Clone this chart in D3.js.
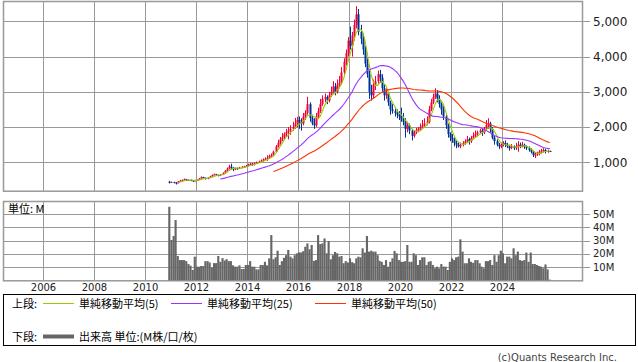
<!DOCTYPE html>
<html>
<head>
<meta charset="utf-8">
<script src="https://cdn.jsdelivr.net/npm/d3@7"></script>
<style>
body { margin: 0; background: #fff; }
text { font-family: "DejaVu Sans", sans-serif; }
.jp { font-family: "Noto Sans CJK JP", sans-serif; }
</style>
</head>
<body>
<div id="chart"></div>
<script>
// monthly candles, Dec 2010 .. Nov 2025
const firstMonth = new Date(2010, 11, 15);

const opens = [450,
	430,440,420,410,460,480,500,520,490,500,480,470,
	490,500,540,580,560,530,560,600,640,660,640,620,
	650,700,760,820,880,850,800,830,820,850,870,880,
	900,940,960,930,970,1000,1020,1050,1080,1100,1120,1180,
	1200,1300,1450,1550,1650,1700,1800,1850,1900,1950,2000,2100,
	2200,2150,2100,2300,2400,2650,2250,2100,2050,2300,2450,2650,
	2800,2850,2750,2900,3000,3150,3000,3200,3250,3550,3850,4100,
	4450,4300,4600,4900,5200,4700,4500,4200,3800,3500,3000,2900,
	3200,3300,3500,3400,3100,2900,2950,2700,2500,2450,2400,2350,
	2300,2250,2150,1950,2050,1900,1750,1850,1900,1950,2000,2050,
	2100,2150,2500,2700,2850,2950,2800,2650,2500,2300,2050,1800,
	1700,1650,1550,1500,1450,1500,1550,1600,1650,1600,1700,1750,
	1800,1850,1900,1850,1950,2050,2100,1950,1700,1600,1500,1450,
	1500,1550,1500,1450,1400,1450,1400,1450,1500,1450,1500,1450,
	1400,1350,1300,1200,1220,1250,1300,1330,1350,1300,1320];

const highs = [470,
	455,450,440,470,500,510,540,530,515,510,490,500,
	515,555,600,590,565,570,615,655,680,670,650,665,
	715,780,850,930,960,860,850,850,870,890,900,925,
	960,985,975,990,1020,1045,1080,1110,1140,1200,1220,1250,
	1330,1490,1640,1720,1830,1850,1950,2000,2050,2150,2260,2290,
	2300,2250,2400,2480,2860,2700,2350,2250,2400,2550,2800,2900,
	2950,2900,3000,3150,3300,3250,3350,3450,3700,3950,4200,4550,
	4850,4700,5050,5430,5350,4900,4650,4300,3950,3600,3200,3350,
	3450,3600,3620,3500,3200,3100,3000,2750,2650,2550,2500,2450,
	2550,2400,2250,2150,2100,1950,1900,1980,2000,2100,2200,2250,
	2300,2600,2800,2950,3100,3050,2900,2700,2600,2350,2100,1850,
	1800,1700,1620,1580,1560,1600,1650,1750,1700,1750,1850,1900,
	1900,1950,1950,2000,2200,2250,2150,2000,1750,1650,1550,1560,
	1600,1620,1550,1500,1520,1480,1550,1600,1560,1580,1530,1480,
	1450,1400,1330,1280,1300,1350,1380,1400,1380,1360,1330];

const lows = [400,
	415,405,370,400,450,465,490,470,475,465,450,460,
	480,495,530,545,510,520,550,590,630,620,600,610,
	640,690,750,800,790,750,780,790,810,835,850,865,
	885,920,900,910,955,985,1000,1020,1060,1040,1100,1140,
	1170,1280,1420,1500,1600,1650,1720,1650,1780,1900,1950,1990,
	1950,1900,2050,2200,2350,2150,2050,1950,2000,2250,2400,2600,
	2700,2650,2700,2850,2950,2900,2950,3100,3200,3500,3750,4000,
	4200,4000,4450,4800,4600,4350,4050,3700,3400,2800,2750,2800,
	3050,3200,3250,3000,2750,2800,2600,2350,2380,2300,2250,2200,
	2150,2050,1700,1850,1800,1620,1700,1800,1850,1900,1950,2000,
	2050,2100,2450,2650,2800,2700,2550,2350,2200,1950,1700,1600,
	1550,1450,1400,1420,1400,1450,1500,1550,1500,1550,1650,1700,
	1750,1800,1750,1800,1900,1950,1850,1650,1500,1450,1380,1400,
	1450,1430,1400,1330,1370,1350,1350,1300,1400,1420,1380,1350,
	1300,1250,1150,1120,1180,1200,1250,1280,1250,1270,1300];

const closes = [430,
	440,420,410,460,480,500,520,490,500,480,470,490,
	500,540,580,560,530,560,600,640,660,640,620,650,
	700,760,820,880,850,800,830,820,850,870,880,900,
	940,960,930,970,1000,1020,1050,1080,1100,1120,1180,1200,
	1300,1450,1550,1650,1700,1800,1850,1900,1950,2000,2100,2200,
	2150,2100,2300,2400,2650,2250,2100,2050,2300,2450,2650,2800,
	2850,2750,2900,3000,3150,3000,3200,3250,3550,3850,4100,4450,
	4300,4600,4900,5200,4700,4500,4200,3800,3500,3000,2900,3200,
	3300,3500,3400,3100,2900,2950,2700,2500,2450,2400,2350,2300,
	2250,2150,1950,2050,1900,1750,1850,1900,1950,2000,2050,2100,
	2150,2500,2700,2850,2950,2800,2650,2500,2300,2050,1800,1700,
	1650,1550,1500,1450,1500,1550,1600,1650,1600,1700,1750,1800,
	1850,1900,1850,1950,2050,2100,1950,1700,1600,1500,1450,1500,
	1550,1500,1450,1400,1450,1400,1450,1500,1450,1500,1450,1400,
	1350,1300,1200,1220,1250,1300,1330,1350,1300,1320,1310];

// 出来高 (M)
const volumes = [55.6,
	30.5,33.5,45.6,18.4,15.3,15.3,15.3,14.5,12.3,11.1,7.8,17.9,
	10.3,10.3,10.8,10.8,14.5,14.5,13.5,9.6,13,13,18.4,14,
	16.8,15,16,14.5,14.5,11.3,10.3,10.3,11.3,8.6,8.6,11.6,
	11.6,14.5,10.3,10.3,8.3,8.3,11.6,11.6,14,11.3,16.6,34.2,
	15.9,17.4,22.4,11.6,14.5,17,19,23,17.9,16.6,19,20.4,
	21.2,21,22,25.4,27.9,23.5,26.7,14.7,15.3,34.2,27.4,27.9,
	31.7,20.4,29.7,15.9,19,21.4,20.4,17.9,18.4,12.9,14.5,13.5,
	16.6,13.7,12.9,16.6,17.9,17.4,24.2,21,33.5,21.7,22.4,21.7,
	21.7,19,14.7,14,11.6,15.3,10.3,14,16.6,22.2,20.4,15.3,
	14,14,14.5,26.7,14,14,20.4,19,11.6,15.3,17.4,17.4,
	11.6,14,14.5,11.6,9.1,10.3,9.1,12.3,10.3,10.3,7.8,14,
	16.6,15.3,17.4,17.9,31,21.7,12.9,12.9,16.6,14,13.2,15.3,
	15.3,12.9,10.3,9.1,14.5,14.5,15.3,11.6,19,14,19,22.4,
	20.4,12.9,17.9,17.9,16.6,24.2,19,21.7,15.3,14.7,15.3,21,
	14,21,12.3,12.3,11.6,10.8,10.3,9.1,12,8.3,0.5];

const yearTicks = [2006, 2008, 2010, 2012, 2014, 2016, 2018, 2020, 2022, 2024];
const priceTicks = [1000, 2000, 3000, 4000, 5000];
const volumeTicks = [10, 20, 30, 40, 50];
const smaSpans = [5, 25, 50];
const smaColors = ['#99cc00', '#9933ff', '#ff3300'];

const W = 638, H = 362;
const plot = {left: 3, right: 582};
const upper = {top: 1, bottom: 190.7};
const lower = {top: 201, bottom: 280.3};
const grid = '#999';

const svg = d3.select('#chart').append('svg')
	.attr('width', W)
	.attr('height', H);

const x = d3.scaleTime()
	.domain([new Date(2006, 0, 1), new Date(2024, 0, 1)])
	.range([43, 502]);
const y = d3.scaleLinear()
	.domain([1000, 5000])
	.range([162.3, 21.3]);
const yv = d3.scaleLinear()
	.domain([0, 60])
	.range([lower.bottom, lower.top]);

const bars = closes.map((c, i) => ({
	date: d3.timeMonth.offset(firstMonth, i),
	o: opens[i], h: highs[i], l: lows[i], c: c, v: volumes[i]
}));

function sma(vals, n) {
	return vals.map((_, i) => i < n - 1 ? null : d3.mean(vals.slice(i - n + 1, i + 1)));
}

function frame(panel, ticks, scale) {
	const g = svg.append('g');
	g.selectAll('line.h')
		.data(ticks)
		.enter().append('line')
			.attr('x1', plot.left).attr('x2', plot.right + 8)
			.attr('y1', d => Math.round(scale(d)) + 0.5)
			.attr('y2', d => Math.round(scale(d)) + 0.5)
			.attr('stroke', grid);
	g.selectAll('line.v')
		.data(yearTicks)
		.enter().append('line')
			.attr('x1', d => Math.round(x(new Date(d, 0, 1))) + 0.5)
			.attr('x2', d => Math.round(x(new Date(d, 0, 1))) + 0.5)
			.attr('y1', panel.top).attr('y2', panel.bottom)
			.attr('stroke', grid);
	g.append('rect')
		.attr('x', plot.left + 0.5).attr('y', panel.top + 0.5)
		.attr('width', plot.right - plot.left)
		.attr('height', panel.bottom - panel.top)
		.attr('fill', 'none')
		.attr('stroke', grid)
		.attr('stroke-width', 1.5);
	return g;
}

function upperPanel() {
	frame(upper, priceTicks, y);
	svg.append('clipPath').attr('id', 'clipU')
		.append('rect')
		.attr('x', plot.left).attr('y', upper.top)
		.attr('width', plot.right - plot.left)
		.attr('height', upper.bottom - upper.top);
	const g = svg.append('g').attr('clip-path', 'url(#clipU)');
	const candle = g.selectAll('g.c')
		.data(bars)
		.enter().append('g');
	candle.append('line')
		.attr('x1', d => Math.round(x(d.date)) + 0.5)
		.attr('x2', d => Math.round(x(d.date)) + 0.5)
		.attr('y1', d => y(d.h))
		.attr('y2', d => y(d.l))
		.attr('stroke', d => d.c >= d.o ? '#f5003c' : '#003399');
	candle.append('rect')
		.attr('x', d => Math.round(x(d.date)) - 0.5)
		.attr('width', 2)
		.attr('y', d => y(Math.max(d.o, d.c)))
		.attr('height', d => Math.max(1, Math.abs(y(d.o) - y(d.c))))
		.attr('fill', d => d.c >= d.o ? '#f5003c' : '#003399');

	smaSpans.forEach((n, k) => {
		const avg = sma(closes, n);
		const line = d3.line()
			.defined((_, i) => avg[i] != null)
			.x(d => x(d.date))
			.y((_, i) => y(avg[i]));
		g.append('path')
			.attr('d', line(bars))
			.attr('fill', 'none')
			.attr('stroke', smaColors[k])
			.attr('stroke-width', 1.1);
	});

	svg.append('g').selectAll('text')
		.data(priceTicks)
		.enter().append('text')
			.attr('x', 593)
			.attr('y', d => y(d))
			.attr('dy', '0.36em')
			.attr('font-size', 12)
			.attr('fill', '#222')
			.text(d3.format(','));
}

function lowerPanel() {
	frame(lower, volumeTicks, yv);
	svg.append('g').selectAll('rect')
		.data(bars)
		.enter().append('rect')
			.attr('x', d => x(d.date) - 1.06)
			.attr('width', 2.13)
			.attr('y', d => yv(d.v))
			.attr('height', d => yv(0) - yv(d.v))
			.attr('fill', '#666');
	svg.append('g').selectAll('text')
		.data(volumeTicks)
		.enter().append('text')
			.attr('x', 593)
			.attr('y', d => yv(d))
			.attr('dy', '0.36em')
			.attr('font-size', 10)
			.attr('fill', '#222')
			.text(d => d + 'M');
	svg.append('text')
		.attr('class', 'jp')
		.attr('x', 8).attr('y', 213)
		.attr('font-size', 11)
		.text('単位: M');
	const axis = d3.axisBottom(x)
		.tickValues(yearTicks.map(d => new Date(d, 0, 1)))
		.tickFormat(d3.timeFormat('%Y'))
		.tickSize(0)
		.tickPadding(4);
	const ax = svg.append('g')
		.attr('transform', `translate(0,${lower.bottom})`)
		.call(axis);
	ax.select('.domain').remove();
	ax.selectAll('text')
		.attr('font-size', 10)
		.attr('font-family', '"DejaVu Sans", sans-serif')
		.attr('fill', '#222');
}

function legend() {
	const g = svg.append('g');
	g.append('rect')
		.attr('x', 3.5).attr('y', 294.5)
		.attr('width', 632).attr('height', 51)
		.attr('fill', 'none')
		.attr('stroke', '#000');
	const items = [
		{x: 43, text: '単純移動平均(5)'},
		{x: 171, text: '単純移動平均(25)'},
		{x: 315, text: '単純移動平均(50)'}
	];
	g.append('text').attr('class', 'jp')
		.attr('x', 12).attr('y', 307.5).attr('font-size', 11)
		.text('上段:');
	items.forEach((d, k) => {
		g.append('line')
			.attr('x1', d.x).attr('x2', d.x + 31)
			.attr('y1', 303.5).attr('y2', 303.5)
			.attr('stroke', smaColors[k]);
		g.append('text').attr('class', 'jp')
			.attr('x', d.x + 36).attr('y', 307.5).attr('font-size', 11)
			.text(d.text);
	});
	g.append('text').attr('class', 'jp')
		.attr('x', 12).attr('y', 340.5).attr('font-size', 11)
		.text('下段:');
	g.append('line')
		.attr('x1', 43).attr('x2', 74)
		.attr('y1', 336.5).attr('y2', 336.5)
		.attr('stroke', '#666')
		.attr('stroke-width', 4);
	g.append('text').attr('class', 'jp')
		.attr('x', 79).attr('y', 340.5).attr('font-size', 11)
		.text('出来高 単位:(M株/口/枚)');
	svg.append('text')
		.attr('x', 617).attr('y', 361)
		.attr('text-anchor', 'end')
		.attr('font-size', 10)
		.attr('fill', '#444')
		.text('(c)Quants Research Inc.');
}

upperPanel();
lowerPanel();
legend();
</script>
</body>
</html>
